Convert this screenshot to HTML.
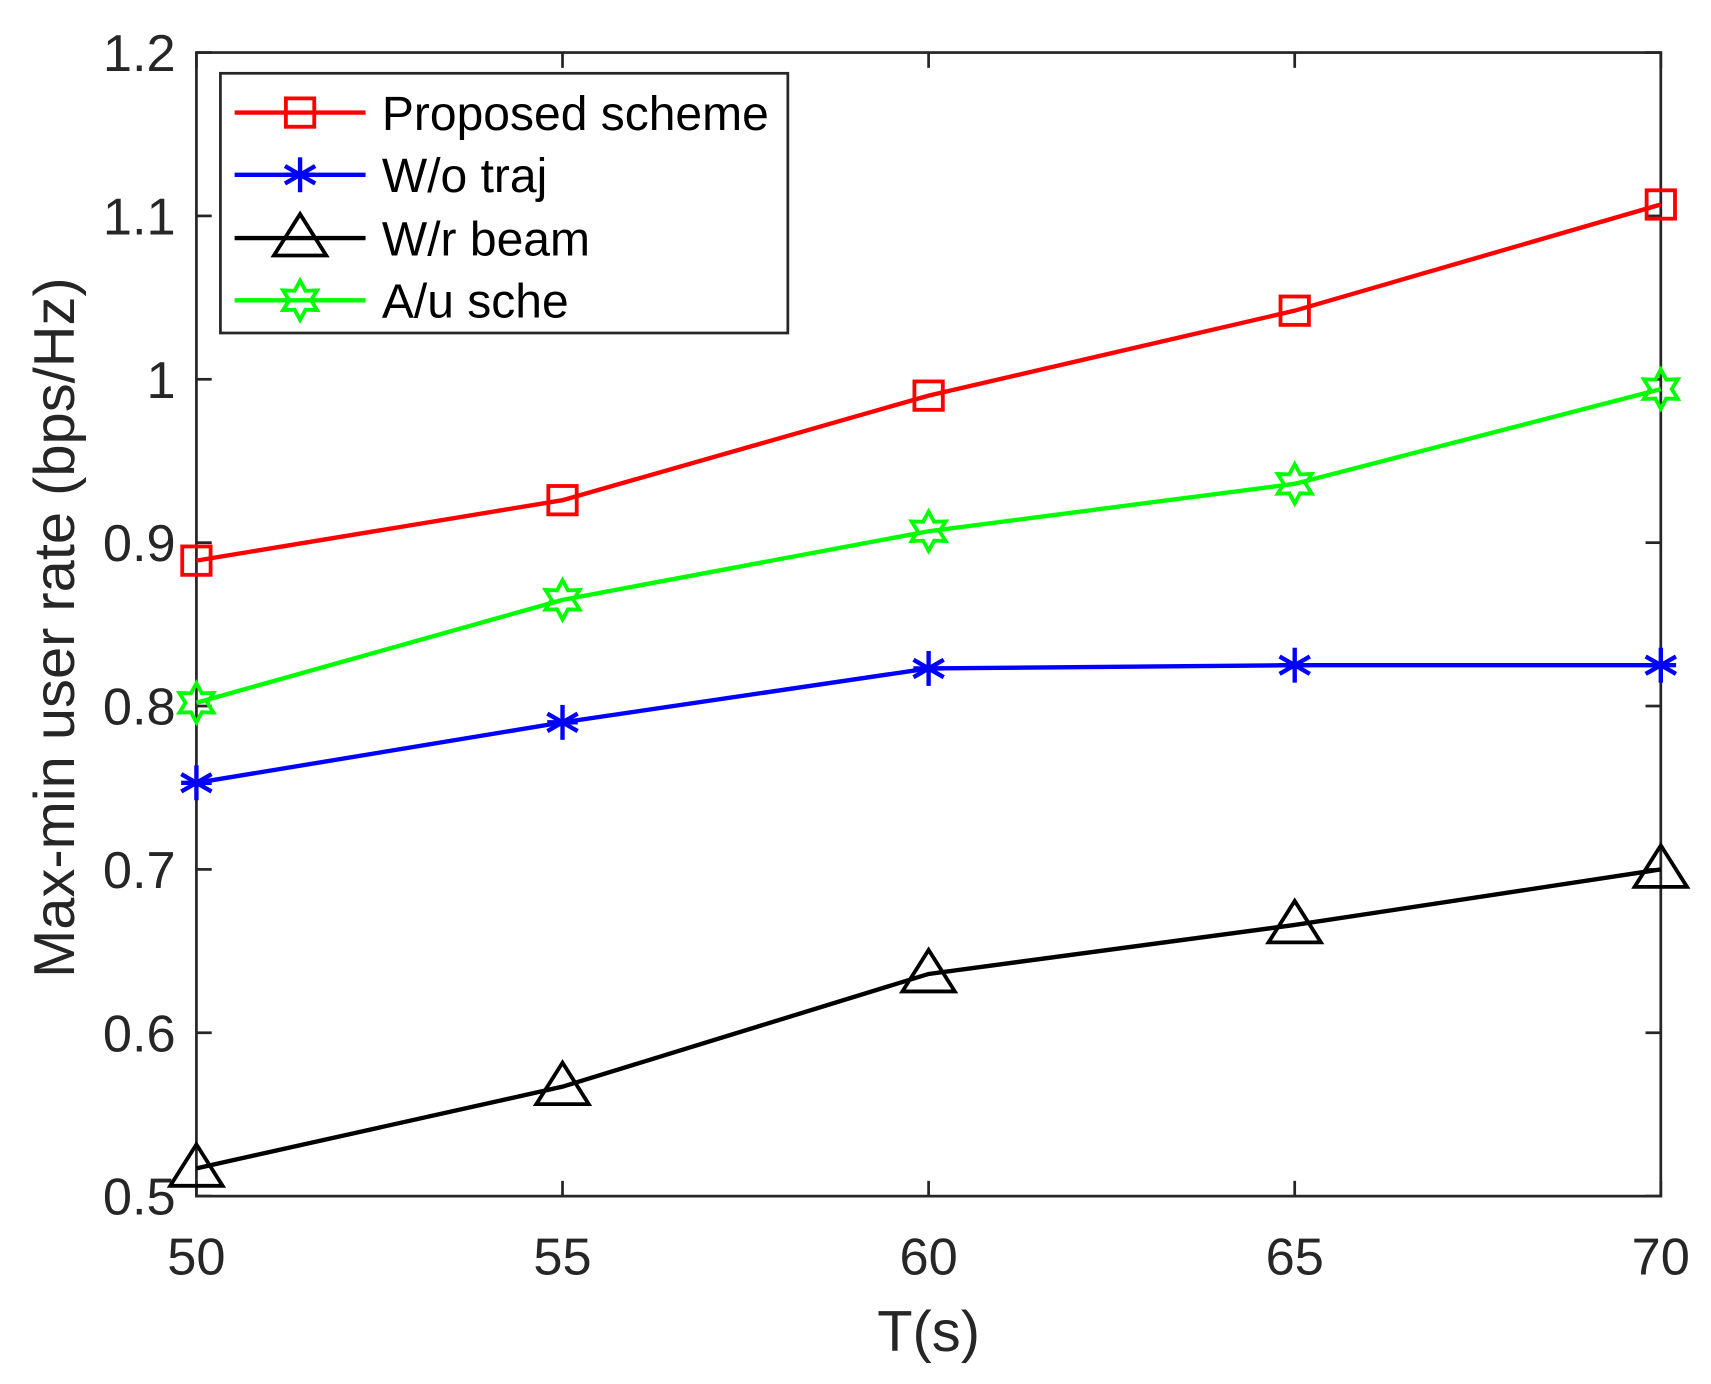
<!DOCTYPE html>
<html><head><meta charset="utf-8"><style>
html,body{margin:0;padding:0;background:#fff}
svg{display:block}
text{font-family:"Liberation Sans",sans-serif;fill:#262626}
</style></head><body>
<svg id="chart" width="1711" height="1384" viewBox="0 0 1568 1268" xmlns="http://www.w3.org/2000/svg"></svg>
<script>
const xCats=[50,55,60,65,70];
const yTicks=[0.5,0.6,0.7,0.8,0.9,1,1.1,1.2];
const yTickLabels=["0.5","0.6","0.7","0.8","0.9","1","1.1","1.2"];
const proposed=[0.889,0.926,0.990,1.042,1.107];
const woTraj=[0.753,0.790,0.823,0.825,0.825];
const wrBeam=[0.517,0.567,0.636,0.666,0.700];
const auSche=[0.802,0.865,0.907,0.936,0.994];

const L=180,R=1522,T=48,B=1096;
const xs=v=>L+(v-50)/(70-50)*(R-L);
const ys=v=>B-(v-0.5)/(1.2-0.5)*(B-T);
const svg=document.getElementById('chart');
const NS='http://www.w3.org/2000/svg';
function el(tag,attrs,parent){const e=document.createElementNS(NS,tag);for(const k in attrs)e.setAttribute(k,attrs[k]);(parent||svg).appendChild(e);return e;}

const box=el('rect',{x:L,y:T,width:R-L,height:B-T,fill:'none',stroke:'#262626','stroke-width':2.5});


const tk=14;
xCats.forEach(v=>{
  const x=xs(v);
  el('line',{x1:x,y1:B,x2:x,y2:B-tk,stroke:'#262626','stroke-width':2.5});
  el('line',{x1:x,y1:T,x2:x,y2:T+tk,stroke:'#262626','stroke-width':2.5});
  const t=el('text',{x:x,y:B+72,'text-anchor':'middle','font-size':48});
  t.textContent=v;
  
  
});
yTicks.forEach((v,i)=>{
  const y=ys(v);
  el('line',{x1:L,y1:y,x2:L+tk,y2:y,stroke:'#262626','stroke-width':2.5});
  el('line',{x1:R,y1:y,x2:R-tk,y2:y,stroke:'#262626','stroke-width':2.5});
  const t=el('text',{x:161,y:y+17,'text-anchor':'end','font-size':48});
  t.textContent=yTickLabels[i];
  
  
});
const xt=el('text',{x:(L+R)/2,y:1238,'text-anchor':'middle','font-size':53});
xt.textContent='T(s)';


const yt=el('text',{x:0,y:0,'text-anchor':'middle','font-size':53,transform:'translate(68,575) rotate(-90)'});
yt.textContent='Max-min user rate (bps/Hz)';



function marker(type,cx,cy,color,g){
  const s=13;
  if(type==='square') el('rect',{x:cx-s,y:cy-s,width:2*s,height:2*s,fill:'none',stroke:color,'stroke-width':3.5},g);
  else if(type==='star'){
    for(let a=0;a<180;a+=60){const r=a*Math.PI/180;el('line',{x1:cx-16*Math.sin(r),y1:cy-16*Math.cos(r),x2:cx+16*Math.sin(r),y2:cy+16*Math.cos(r),stroke:color,'stroke-width':4},g);}
    el('line',{x1:cx-14,y1:cy,x2:cx+14,y2:cy,stroke:color,'stroke-width':4},g);
  } else if(type==='tri'){
    el('polygon',{points:`${cx},${cy-22} ${cx+24},${cy+16} ${cx-24},${cy+16}`,fill:'none',stroke:color,'stroke-width':3.5},g);
  } else if(type==='hex'){
    const r1=18,r2=10;let p=[];
    for(let i=0;i<12;i++){const r=i%2?r2:r1;const a=(i*30-90)*Math.PI/180;p.push((cx+r*Math.cos(a)).toFixed(1)+','+(cy+r*Math.sin(a)).toFixed(1));}
    el('polygon',{points:p.join(' '),fill:'none',stroke:color,'stroke-width':3.5},g);
  }
}
const series=[
 {name:'series-proposed-scheme',data:proposed,color:'#ff0000',m:'square'},
 {name:'series-wo-traj',data:woTraj,color:'#0000ff',m:'star'},
 {name:'series-wr-beam',data:wrBeam,color:'#000000',m:'tri'},
 {name:'series-au-sche',data:auSche,color:'#00ff00',m:'hex'}
];
series.forEach(s=>{
  const g=el('g',{});
  
  
  el('polyline',{points:s.data.map((v,i)=>xs(xCats[i])+','+ys(v)).join(' '),fill:'none',stroke:s.color,'stroke-width':4},g);
  s.data.forEach((v,i)=>marker(s.m,xs(xCats[i]),ys(v),s.color,g));
});

const lg=el('g',{});


el('rect',{x:202,y:67,width:520,height:238,fill:'#fff',stroke:'#262626','stroke-width':2.5},lg);
const labels=['Proposed scheme','W/o traj','W/r beam','A/u sche'];
const ly=[103,160,218,275];
series.forEach((s,i)=>{
  const e=el('g',{},lg);
  
  
  el('line',{x1:215,y1:ly[i],x2:335,y2:ly[i],stroke:s.color,'stroke-width':4},e);
  marker(s.m,275,ly[i],s.color,e);
  const t=el('text',{x:350,y:ly[i]+16,'font-size':44},e);
  t.style.fill='#000';
  t.textContent=labels[i];
});
</script>
</body></html>
